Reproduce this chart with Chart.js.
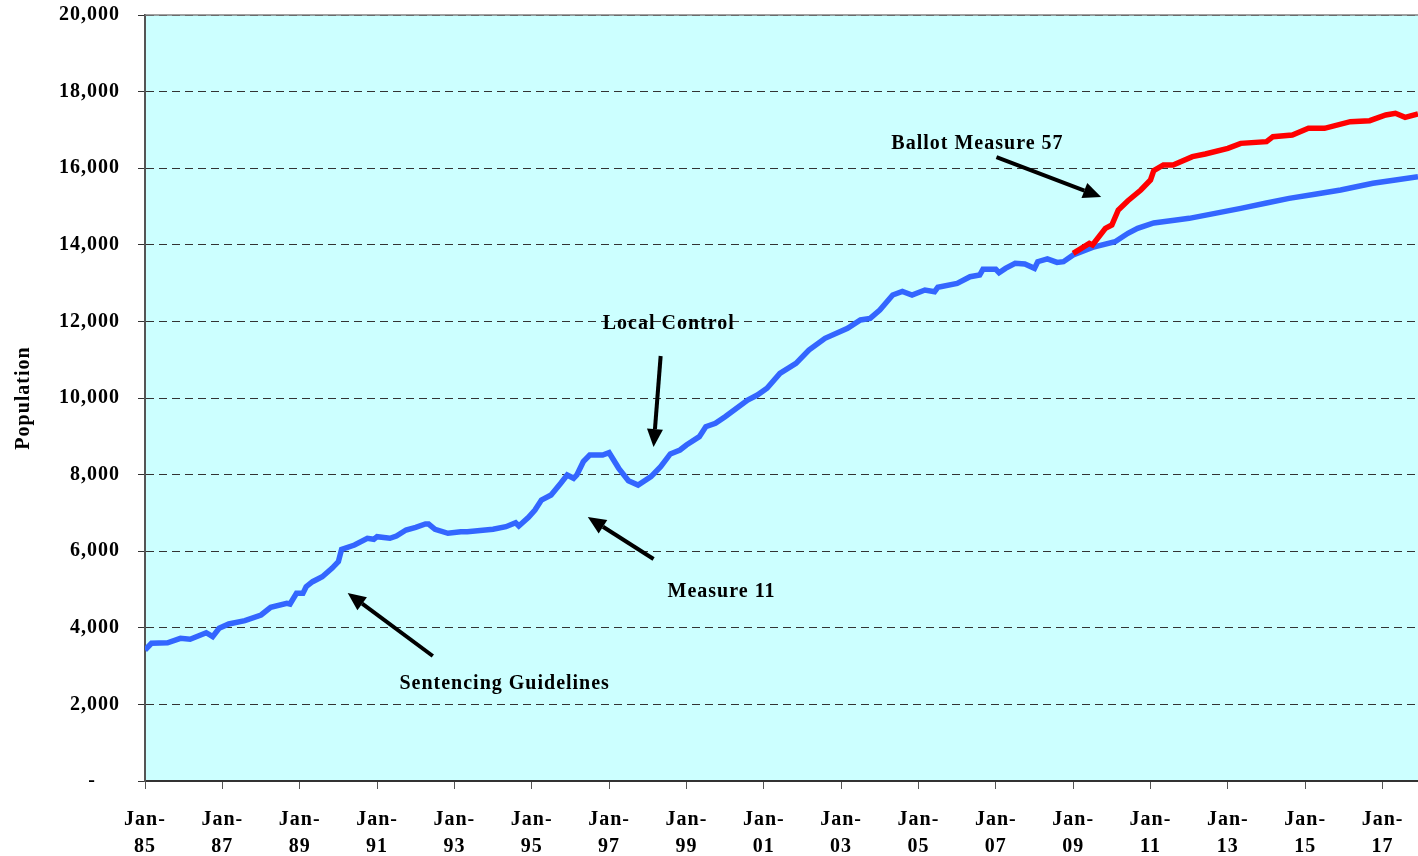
<!DOCTYPE html>
<html>
<head>
<meta charset="utf-8">
<script src="https://cdn.jsdelivr.net/npm/chart.js@4.4.0/dist/chart.umd.min.js"></script>
<style>
    body { margin: 0; background: #ffffff; }
    #wrap { width: 1418px; height: 856px; }
</style>
</head>
<body>
<div id="wrap"><canvas id="popChart" width="1418" height="856"></canvas></div>
<script>
// months counted from Jan-85
const blueMonths = [0, 2, 7, 11, 14, 19, 21, 23, 26, 31, 36, 39, 44, 45, 47, 49, 50, 52, 55, 58,
    60, 61, 65, 69, 71, 72, 76, 78, 81, 84, 87, 88, 90, 94, 98, 100, 104, 108, 112, 115,
    116, 119, 121, 123, 126, 129, 131, 133, 134, 136, 138, 142, 144, 147, 150, 153, 157, 160, 163, 166,
    168, 172, 174, 177, 180, 187, 190, 193, 197, 202, 206, 211, 218, 222, 225, 228, 232, 235, 238, 242,
    245, 246, 252, 256, 259, 260, 264, 265, 267, 270, 273, 276, 277, 280, 283, 285, 288, 294, 301, 305,
    308, 313, 320, 324, 332, 340, 348, 355, 363, 371, 381, 388, 395];
const blueValues = [3420, 3595, 3610, 3726, 3700, 3872, 3768, 3987, 4099, 4185, 4334, 4535, 4640, 4621, 4900, 4900, 5073, 5204, 5334, 5553,
    5726, 6050, 6162, 6337, 6310, 6379, 6337, 6397, 6554, 6624, 6710, 6710, 6572, 6467, 6509, 6509, 6540, 6572, 6640, 6744,
    6658, 6885, 7076, 7337, 7467, 7773, 7990, 7903, 7990, 8337, 8512, 8512, 8572, 8164, 7841, 7728, 7946, 8207, 8540, 8642,
    8773, 8990, 9251, 9338, 9512, 9948, 10078, 10253, 10644, 10905, 11253, 11558, 11820, 12037, 12080, 12298, 12689, 12780, 12689, 12820,
    12776, 12889, 12994, 13167, 13211, 13359, 13359, 13272, 13385, 13516, 13498, 13385, 13559, 13630, 13540, 13559, 13733, 13933, 14081, 14300,
    14428, 14570, 14650, 14691, 14820, 14952, 15090, 15213, 15320, 15431, 15605, 15690, 15779];

const redMonths = [288, 293, 294, 298, 300, 302, 305, 309, 312, 313, 316, 319, 325, 329, 336, 340, 348, 350, 356, 361,
    366, 374, 380, 385, 388, 391, 395];
const redValues = [13776, 14037, 13994, 14428, 14517, 14909, 15151, 15431, 15692, 15935, 16084, 16084, 16301, 16371, 16519, 16649, 16693, 16823, 16867, 17041,
    17041, 17215, 17241, 17389, 17433, 17328, 17415];

const xTickMonths = [0, 24, 48, 72, 96, 120, 144, 168, 192, 216, 240, 264, 288, 312, 336, 360, 384];
const xTickLabels = ['85', '87', '89', '91', '93', '95', '97', '99', '01', '03', '05', '07', '09', '11', '13', '15', '17'];

// annotation text + arrow, in chart units (month, population)
const notes = [
    { text: 'Sentencing Guidelines', at: [111.6, 2533], from: [89.3, 3264], to: [62.9, 4909] },
    { text: 'Measure 11', at: [178.9, 4935], from: [157.8, 5796], to: [137.4, 6893] },
    { text: 'Local Control', at: [162.5, 11932], from: [160, 11097], to: [157.8, 8721] },
    { text: 'Ballot Measure 57', at: [258.3, 16632], from: [264.2, 16292], to: [296.7, 15248] }
];

const FONT = 'bold 20px "Liberation Serif", "Times New Roman", serif';

function toPoints(xs, ys) {
    return xs.map((m, i) => ({ x: m, y: ys[i] }));
}

const plotBackground = {
    id: 'plotBackground',
    beforeDraw(chart) {
        const { ctx, chartArea: a } = chart;
        ctx.save();
        ctx.fillStyle = '#ccffff';
        ctx.fillRect(a.left, a.top, a.right - a.left, a.bottom - a.top);
        ctx.restore();
        ctx.letterSpacing = '1px';
    },
    afterDraw(chart) {
        const { ctx, chartArea: a } = chart;
        ctx.save();
        ctx.strokeStyle = '#808080';
        ctx.lineWidth = 1.5;
        ctx.beginPath();
        ctx.moveTo(a.left, a.top);
        ctx.lineTo(a.right, a.top);
        ctx.stroke();
        ctx.restore();
    }
};

const arrowNotes = {
    id: 'arrowNotes',
    afterDatasetsDraw(chart) {
        const { ctx, scales: { x, y } } = chart;
        ctx.save();
        ctx.letterSpacing = '1px';
        notes.forEach(n => {
            ctx.font = FONT;
            ctx.fillStyle = '#000';
            ctx.textAlign = 'center';
            ctx.textBaseline = 'middle';
            ctx.fillText(n.text, x.getPixelForValue(n.at[0]), y.getPixelForValue(n.at[1]));

            const x1 = x.getPixelForValue(n.from[0]), y1 = y.getPixelForValue(n.from[1]);
            const x2 = x.getPixelForValue(n.to[0]), y2 = y.getPixelForValue(n.to[1]);
            const ang = Math.atan2(y2 - y1, x2 - x1);
            const headLen = 18, headW = 8;
            const bx = x2 - headLen * Math.cos(ang), by = y2 - headLen * Math.sin(ang);
            ctx.strokeStyle = '#000';
            ctx.lineWidth = 4;
            ctx.beginPath();
            ctx.moveTo(x1, y1);
            ctx.lineTo(bx, by);
            ctx.stroke();
            ctx.beginPath();
            ctx.moveTo(x2, y2);
            ctx.lineTo(bx + headW * Math.sin(ang), by - headW * Math.cos(ang));
            ctx.lineTo(bx - headW * Math.sin(ang), by + headW * Math.cos(ang));
            ctx.closePath();
            ctx.fill();
        });
        ctx.restore();
    }
};

new Chart(document.getElementById('popChart'), {
    type: 'line',
    data: {
        datasets: [{
            label: 'Ballot Measure 57',
            data: toPoints(redMonths, redValues),
            borderColor: '#ff0000',
            borderWidth: 5.5,
            pointRadius: 0,
            tension: 0
        }, {
            label: 'Population',
            data: toPoints(blueMonths, blueValues),
            borderColor: '#3366ff',
            borderWidth: 5.5,
            pointRadius: 0,
            tension: 0
        }]
    },
    options: {
        responsive: false,
        animation: false,
        layout: { padding: { top: 15, right: 0, left: 0, bottom: 0 } },
        plugins: {
            legend: { display: false },
            tooltip: { enabled: false }
        },
        scales: {
            x: {
                type: 'linear',
                min: 0,
                max: 395,
                afterBuildTicks(scale) {
                    scale.ticks = xTickMonths.map(v => ({ value: v }));
                },
                afterFit(scale) {
                    scale.height = 75;
                    scale.paddingLeft = 0;
                    scale.paddingRight = 0;
                },
                ticks: {
                    autoSkip: false,
                    maxRotation: 0,
                    padding: 17,
                    color: '#000',
                    font: { family: '"Liberation Serif", serif', size: 20, weight: 'bold', lineHeight: 1.35 },
                    callback: (v) => {
                        const i = xTickMonths.indexOf(v);
                        return i < 0 ? '' : ['Jan-', xTickLabels[i]];
                    }
                },
                grid: {
                    drawOnChartArea: false,
                    tickLength: 8,
                    tickColor: '#555'
                },
                border: { color: '#333', width: 2 }
            },
            y: {
                min: 0,
                max: 20000,
                afterFit(scale) {
                    scale.width = 145;
                    scale.paddingTop = 0;
                    scale.paddingBottom = 0;
                },
                ticks: {
                    stepSize: 2000,
                    padding: 18,
                    color: '#000',
                    font: { family: '"Liberation Serif", serif', size: 20, weight: 'bold' },
                    callback: (v) => v === 0 ? '-    ' : v.toLocaleString('en-US')
                },
                grid: {
                    color: '#333',
                    lineWidth: 1,
                    tickLength: 7,
                    tickColor: '#333',
                    tickBorderDash: []
                },
                border: { color: '#555', width: 2, dash: [8, 5] },
                title: {
                    display: true,
                    text: 'Population',
                    color: '#000',
                    font: { family: '"Liberation Serif", serif', size: 20, weight: 'bold' },
                    padding: { top: 12, bottom: 0 }
                }
            }
        }
    },
    plugins: [plotBackground, arrowNotes]
});
</script>
</body>
</html>
